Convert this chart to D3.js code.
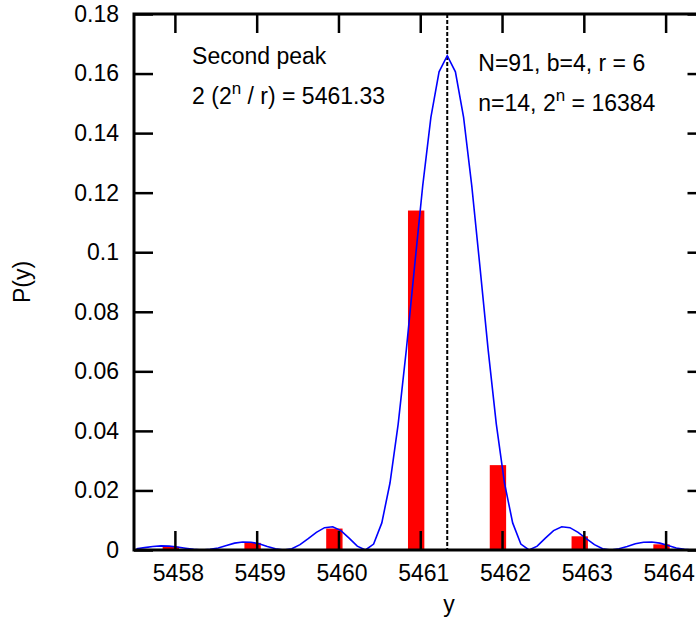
<!DOCTYPE html>
<html>
<head>
<meta charset="utf-8">
<script src="https://cdn.jsdelivr.net/npm/d3@7"></script>
<style>
    body { margin: 0; background: white; }
    svg { display: block; overflow: hidden; }
    .axis text { font-family: "Liberation Sans", Arial, sans-serif; font-size: 23px; fill: black; }
    .label { font-family: "Liberation Sans", Arial, sans-serif; font-size: 23px; fill: black; }
</style>
</head>
<body>
<div class="graph"></div>
<script>
// Measured probabilities at each integer y
const barY = [5458, 5459, 5460, 5461, 5462, 5463, 5464];
const barP = [0.0011, 0.0024, 0.0072, 0.1140, 0.0285, 0.0046, 0.0019];

// Continuous curve
const curveY = [
    5457.53, 5457.63, 5457.73, 5457.83, 5457.93, 5458.03, 5458.13, 5458.23, 5458.33, 5458.43,
    5458.53, 5458.63, 5458.73, 5458.83, 5458.93, 5459.03, 5459.13, 5459.23, 5459.33, 5459.43,
    5459.53, 5459.63, 5459.73, 5459.83, 5459.93, 5460.03, 5460.13, 5460.23, 5460.33, 5460.43,
    5460.53, 5460.63, 5460.73, 5460.83, 5460.93, 5461.03, 5461.13, 5461.23, 5461.33, 5461.43,
    5461.53, 5461.63, 5461.73, 5461.83, 5461.93, 5462.03, 5462.13, 5462.23, 5462.33, 5462.43,
    5462.53, 5462.63, 5462.73, 5462.83, 5462.93, 5463.03, 5463.13, 5463.23, 5463.33, 5463.43,
    5463.53, 5463.63, 5463.73, 5463.83, 5463.93, 5464.03, 5464.13, 5464.23, 5464.33, 5464.43,
    5464.53
];
const curveP = [
    0.0004, 0.0008, 0.0012, 0.0014, 0.0013, 0.0010, 0.0006, 0.0002, 0.0000, 0.0002,
    0.0007, 0.0015, 0.0023, 0.0027, 0.0026, 0.0021, 0.0012, 0.0004, 0.0000, 0.0004,
    0.0018, 0.0038, 0.0059, 0.0075, 0.0078, 0.0065, 0.0040, 0.0013, 0.0000, 0.0020,
    0.0091, 0.0225, 0.0423, 0.0673, 0.0951, 0.1223, 0.1453, 0.1606, 0.1660, 0.1606,
    0.1453, 0.1223, 0.0951, 0.0673, 0.0423, 0.0225, 0.0091, 0.0020, 0.0000, 0.0013,
    0.0040, 0.0065, 0.0078, 0.0075, 0.0059, 0.0038, 0.0018, 0.0004, 0.0000, 0.0004,
    0.0012, 0.0021, 0.0026, 0.0027, 0.0023, 0.0015, 0.0007, 0.0002, 0.0000, 0.0002,
    0.0006
];

const peakY = 5461.33;
const xTicks = [5458, 5459, 5460, 5461, 5462, 5463, 5464];
const yTicks = [0, 0.02, 0.04, 0.06, 0.08, 0.1, 0.12, 0.14, 0.16, 0.18];

function createChart() {
    const dimensions = {
        width: 696,
        height: 621,
        margins: { top: 14, left: 134 },
        boundedWidth: 572.5,
        boundedHeight: 536,
        tickLength: 19
    };

    const wrapper = d3.select(".graph")
        .append("svg")
            .attr("width", dimensions.width)
            .attr("height", dimensions.height);

    const bounds = wrapper.append("g")
        .attr("transform", `translate(${dimensions.margins.left},${dimensions.margins.top})`);

    bounds.append("clipPath")
        .attr("id", "plot-clip")
        .append("rect")
            .attr("width", dimensions.boundedWidth)
            .attr("height", dimensions.boundedHeight);

    const xScale = d3.scaleLinear()
        .domain([5457.5, 5464.5])
        .range([0, dimensions.boundedWidth]);

    const yScale = d3.scaleLinear()
        .domain([0, 0.18])
        .range([dimensions.boundedHeight, 0]);

    const plot = bounds.append("g").attr("clip-path", "url(#plot-clip)");

    // Bars sit slightly left of the integer, like the original
    const barWidth = 0.2;
    plot.selectAll("rect.bar")
        .data(barY)
        .join("rect")
            .attr("class", "bar")
            .attr("x", (d) => xScale(d - 0.05 - barWidth / 2))
            .attr("width", (d) => xScale(d + barWidth) - xScale(d))
            .attr("y", (d, i) => yScale(barP[i]))
            .attr("height", (d, i) => yScale(0) - yScale(barP[i]))
            .attr("fill", "#ff0000");

    // Dashed line marking the second peak
    plot.append("line")
        .attr("x1", xScale(peakY))
        .attr("x2", xScale(peakY))
        .attr("y1", yScale(0.18))
        .attr("y2", yScale(0))
        .attr("stroke", "black")
        .attr("stroke-width", 2)
        .attr("stroke-dasharray", "4,2");

    const lineGenerator = d3.line()
        .x((d) => xScale(d))
        .y((d, i) => yScale(curveP[i]));

    plot.append("path")
        .attr("d", lineGenerator(curveY))
        .attr("fill", "none")
        .attr("stroke", "#0000ff")
        .attr("stroke-width", 1.6);

    // Axes, ticks pointing inward on all four sides
    const inward = -dimensions.tickLength;

    const xAxis = bounds.append("g")
        .attr("class", "axis")
        .attr("transform", `translate(0,${dimensions.boundedHeight})`)
        .call(d3.axisBottom(xScale).tickValues(xTicks).tickFormat(d3.format("d"))
            .tickSizeInner(inward).tickSizeOuter(0).tickPadding(15));
    xAxis.selectAll("text").attr("dx", 3);

    bounds.append("g")
        .attr("class", "axis")
        .call(d3.axisTop(xScale).tickValues(xTicks).tickFormat("")
            .tickSizeInner(inward).tickSizeOuter(0));

    bounds.append("g")
        .attr("class", "axis")
        .call(d3.axisLeft(yScale).tickValues(yTicks).tickFormat((d) => d3.format("~g")(d))
            .tickSizeInner(inward).tickSizeOuter(0).tickPadding(15));

    bounds.append("g")
        .attr("class", "axis")
        .attr("transform", `translate(${dimensions.boundedWidth},0)`)
        .call(d3.axisRight(yScale).tickValues(yTicks).tickFormat("")
            .tickSizeInner(inward).tickSizeOuter(0));

    bounds.selectAll(".axis .domain").remove();
    bounds.selectAll(".axis line").attr("stroke", "black").attr("stroke-width", 2.5);

    // Border
    bounds.append("rect")
        .attr("width", dimensions.boundedWidth)
        .attr("height", dimensions.boundedHeight)
        .attr("fill", "none")
        .attr("stroke", "black")
        .attr("stroke-width", 3);

    // Axis titles
    wrapper.append("text")
        .attr("class", "label")
        .attr("text-anchor", "middle")
        .attr("transform", "translate(30,282) rotate(-90)")
        .text("P(y)");

    wrapper.append("text")
        .attr("class", "label")
        .attr("text-anchor", "middle")
        .attr("x", dimensions.margins.left + xScale(5461.35))
        .attr("y", 612)
        .text("y");

    // Annotations
    function note(x, y, parts) {
        const t = bounds.append("text")
            .attr("class", "label")
            .attr("x", xScale(x))
            .attr("y", yScale(y));
        parts.forEach((p) => {
            const s = t.append("tspan").text(p.text);
            if (p.sup) s.attr("font-size", 17).attr("dy", -10);
            if (p.after) s.attr("dy", 10);
        });
    }

    note(5458.21, 0.1633, [{ text: "Second peak" }]);
    note(5458.21, 0.1498, [{ text: "2 (2" }, { text: "n", sup: true }, { text: " / r) = 5461.33", after: true }]);
    note(5461.71, 0.1610, [{ text: "N=91, b=4, r = 6" }]);
    note(5461.71, 0.1475, [{ text: "n=14, 2" }, { text: "n", sup: true }, { text: " = 16384", after: true }]);
}

createChart();
</script>
</body>
</html>
